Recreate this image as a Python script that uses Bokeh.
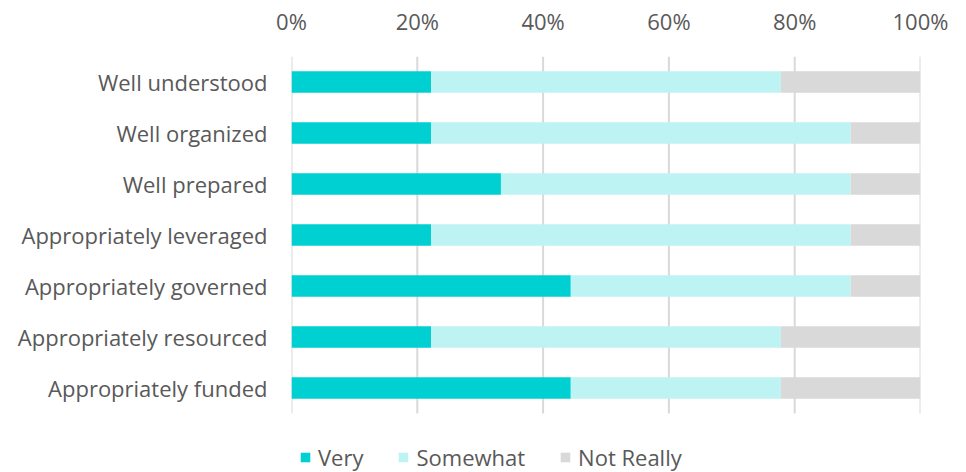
from bokeh.plotting import figure
from bokeh.models import Range1d, NumeralTickFormatter, Legend, LegendItem, LinearAxis, FixedTicker
from bokeh.embed import file_html
from bokeh.resources import INLINE

categories = ["Well understood", "Well organized", "Well prepared", "Appropriately leveraged",
              "Appropriately governed", "Appropriately resourced", "Appropriately funded"]
very = [0.222, 0.222, 0.333, 0.222, 0.444, 0.222, 0.444]
somewhat = [0.556, 0.667, 0.556, 0.667, 0.445, 0.556, 0.334]
not_really = [0.222, 0.111, 0.111, 0.111, 0.111, 0.222, 0.222]
series = ["Very", "Somewhat", "Not Really"]
colors = ["#00D0D2", "#BEF3F3", "#D9D9D9"]
ticks = [0, 0.2, 0.4, 0.6, 0.8, 1.0]

FONT = "Open Sans"
TXT = "#595959"
FS = "22px"

n = len(categories)
ypos = [n - 1 - i for i in range(n)]          # first category on top
LEGEND_SPACE = 1.157                           # extra room (in rows) below the bars for the legend

p = figure(width=966, height=472, x_range=Range1d(0, 1),
           y_range=Range1d(-0.5 - LEGEND_SPACE, n - 0.5),
           output_backend="svg", toolbar_location=None,
           x_axis_location=None, min_border_left=291, min_border_right=46,
           min_border_top=56, min_border_bottom=0)

# vertical gridlines, limited to the bar area
p.segment(x0=ticks, x1=ticks, y0=[-0.5] * len(ticks), y1=[n - 0.5] * len(ticks),
          line_color="#D9D9D9", line_width=2)

data = dict(y=ypos, Very=very, Somewhat=somewhat)
data["Not Really"] = not_really
renderers = p.hbar_stack(series, y="y", height=0.42, color=colors, line_color=None, source=data)

xaxis = LinearAxis(ticker=FixedTicker(ticks=ticks), formatter=NumeralTickFormatter(format="0%"))
xaxis.axis_line_color = None
xaxis.major_tick_line_color = None
xaxis.minor_tick_line_color = None
xaxis.major_tick_out = 0
xaxis.major_tick_in = 0
xaxis.major_label_text_font = FONT
xaxis.major_label_text_font_size = FS
xaxis.major_label_text_color = TXT
xaxis.major_label_standoff = 21
p.add_layout(xaxis, "above")

p.xgrid.grid_line_color = None
p.ygrid.grid_line_color = None

p.yaxis.ticker = FixedTicker(ticks=ypos)
p.yaxis.major_label_overrides = {y: c for y, c in zip(ypos, categories)}
p.yaxis.axis_line_color = None
p.yaxis.major_tick_line_color = None
p.yaxis.minor_tick_line_color = None
p.yaxis.major_tick_out = 0
p.yaxis.major_tick_in = 0
p.yaxis.major_label_text_font = FONT
p.yaxis.major_label_text_font_size = FS
p.yaxis.major_label_text_color = TXT
p.yaxis.major_label_standoff = 24
p.outline_line_color = None

legend = Legend(items=[LegendItem(label=s, renderers=[r]) for s, r in zip(series, renderers)],
                orientation="horizontal", location=(8, 0),
                label_text_font=FONT, label_text_font_size=FS, label_text_color=TXT,
                glyph_width=12, glyph_height=12, spacing=34, label_standoff=7,
                border_line_color=None, background_fill_alpha=0, padding=0, margin=0)
p.add_layout(legend, "center")

open("out.html", "w").write(file_html(p, INLINE))
